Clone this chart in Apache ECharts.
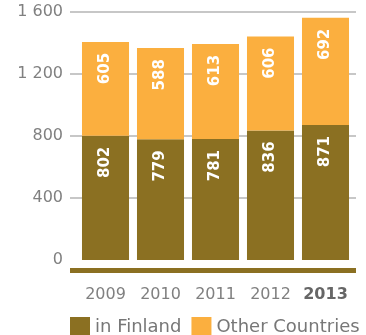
<!DOCTYPE html>
<html><head><meta charset="utf-8">
<script src="https://cdn.jsdelivr.net/npm/echarts@6/dist/echarts.min.js"></script>
<style>html,body{margin:0;padding:0;background:#fff}#c{width:366px;height:335px}</style>
</head><body><div id="c"></div>
<script>
const years = ['2009','2010','2011','2012','2013'];
const inFinland = [802, 779, 781, 836, 871];
const otherCountries = [605, 588, 613, 606, 692];
const yTicks = [0, 400, 800, 1200, 1600];

const chart = echarts.init(document.getElementById('c'), null, {renderer:'canvas'});
const font = '"DejaVu Sans", sans-serif';
const segLabel = {
  show: true, position: 'insideTop', rotate: 90, align: 'right', verticalAlign: 'middle',
  distance: 11, color: '#fff', fontWeight: 'bold', fontSize: 15, fontFamily: font
};
chart.setOption({
  animation: false,
  grid: [
    {left: 70, right: 10, top: 12, bottom: 75},
    {left: 78, right: 13, top: 12, bottom: 75}
  ],
  legend: {
    left: 70, top: 317, padding: 0, itemWidth: 20, itemHeight: 20, itemGap: 10,
    icon: 'rect',
    textStyle: {fontSize: 18, color: '#777', fontFamily: font, padding: [10,0,0,0]},
    data: ['in Finland', 'Other Countries']
  },
  xAxis: [
    {gridIndex: 0, type: 'value', min: 0, max: 1, offset: 10,
     axisLine: {show: true, onZero: false, lineStyle: {color: '#8B7022', width: 5, cap: 'butt'}},
     axisTick: {show: false}, axisLabel: {show: false}, splitLine: {show: false}},
    {gridIndex: 1, type: 'category', data: years,
     axisLine: {show: false}, axisTick: {show: false},
     axisLabel: {interval: 0, margin: 27, fontSize: 16, color: '#808080', fontFamily: font,
       formatter: v => v === '2013' ? '{b|' + v + '}' : v,
       rich: {b: {fontWeight: 'bold', color: '#666', fontSize: 16, fontFamily: font}}}}
  ],
  yAxis: [
    {gridIndex: 0, type: 'value', min: yTicks[0], max: yTicks[yTicks.length-1], interval: 400,
     axisLine: {show: false}, axisTick: {show: false},
     axisLabel: {margin: 7, fontSize: 16, color: '#808080', fontFamily: font,
       formatter: v => v >= 1000 ? String(v).replace(/\B(?=(\d{3})+(?!\d))/g, ' ') : String(v)},
     splitLine: {show: true, showMinLine: false, lineStyle: {color: '#b5b5b5', width: 1.5}}},
    {gridIndex: 1, type: 'value', min: 0, max: 1600, show: false, splitLine: {show: false}}
  ],
  series: [
    {name: 'in Finland', type: 'bar', stack: 't', xAxisIndex: 1, yAxisIndex: 1,
     data: inFinland, barCategoryGap: '14.5%', itemStyle: {color: '#8B7022'}, label: segLabel},
    {name: 'Other Countries', type: 'bar', stack: 't', xAxisIndex: 1, yAxisIndex: 1,
     data: otherCountries, barCategoryGap: '14.5%', itemStyle: {color: '#FBAF3F'}, label: segLabel}
  ]
});
</script></body></html>
